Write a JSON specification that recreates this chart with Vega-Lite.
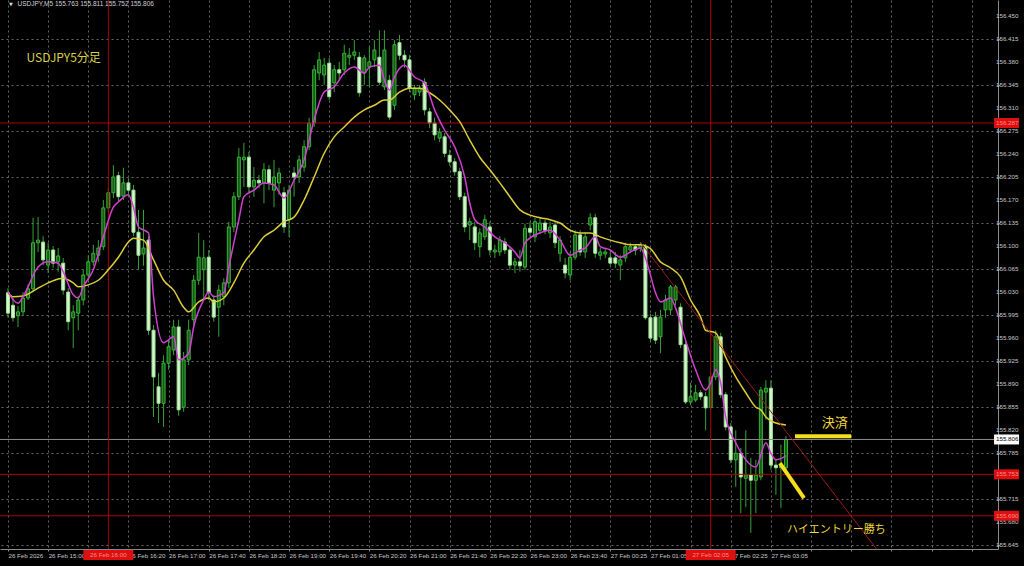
{
"$schema":"https://vega.github.io/schema/vega-lite/v6.json",
"width":998,"height":549,
"autosize":{"type":"none"},
"padding":{"left":0,"top":0,"right":26,"bottom":17},
"background":"#000000",
"config":{"view":{"stroke":null},"axis":{"labelOverlap":false,"labelBound":false,"labelFlush":false}},
"datasets":{
"candles":[
{"i":0,"o":156.029,"h":156.036,"l":155.991,"c":155.998},
{"i":1,"o":156.010,"h":156.021,"l":155.985,"c":155.991},
{"i":2,"o":155.994,"h":156.009,"l":155.977,"c":156.000},
{"i":3,"o":156.000,"h":156.030,"l":155.994,"c":156.021},
{"i":4,"o":156.021,"h":156.042,"l":156.018,"c":156.035},
{"i":5,"o":156.035,"h":156.143,"l":156.030,"c":156.105},
{"i":6,"o":156.105,"h":156.144,"l":156.091,"c":156.109},
{"i":7,"o":156.106,"h":156.115,"l":156.071,"c":156.079},
{"i":8,"o":156.071,"h":156.105,"l":156.059,"c":156.094},
{"i":9,"o":156.094,"h":156.100,"l":156.067,"c":156.074},
{"i":10,"o":156.076,"h":156.097,"l":156.061,"c":156.085},
{"i":11,"o":156.074,"h":156.082,"l":156.026,"c":156.033},
{"i":12,"o":156.030,"h":156.036,"l":155.972,"c":155.985},
{"i":13,"o":155.991,"h":156.010,"l":155.945,"c":156.000},
{"i":14,"o":155.998,"h":156.024,"l":155.972,"c":156.018},
{"i":15,"o":156.018,"h":156.064,"l":156.010,"c":156.056},
{"i":16,"o":156.056,"h":156.086,"l":156.048,"c":156.076},
{"i":17,"o":156.076,"h":156.102,"l":156.070,"c":156.089},
{"i":18,"o":156.086,"h":156.109,"l":156.076,"c":156.097},
{"i":19,"o":156.099,"h":156.170,"l":156.094,"c":156.158},
{"i":20,"o":156.158,"h":156.188,"l":156.152,"c":156.181},
{"i":21,"o":156.181,"h":156.223,"l":156.173,"c":156.205},
{"i":22,"o":156.207,"h":156.213,"l":156.167,"c":156.175},
{"i":23,"o":156.176,"h":156.219,"l":156.170,"c":156.196},
{"i":24,"o":156.196,"h":156.203,"l":156.178,"c":156.185},
{"i":25,"o":156.185,"h":156.193,"l":156.115,"c":156.121},
{"i":26,"o":156.121,"h":156.155,"l":156.064,"c":156.086},
{"i":27,"o":156.088,"h":156.155,"l":156.070,"c":156.097},
{"i":28,"o":156.109,"h":156.115,"l":155.965,"c":155.972},
{"i":29,"o":155.972,"h":155.980,"l":155.840,"c":155.901},
{"i":30,"o":155.886,"h":155.907,"l":155.831,"c":155.861},
{"i":31,"o":155.861,"h":155.934,"l":155.825,"c":155.922},
{"i":32,"o":155.922,"h":155.957,"l":155.912,"c":155.947},
{"i":33,"o":155.942,"h":155.988,"l":155.934,"c":155.977},
{"i":34,"o":155.977,"h":155.988,"l":155.842,"c":155.851},
{"i":35,"o":155.855,"h":155.939,"l":155.848,"c":155.927},
{"i":36,"o":155.927,"h":155.988,"l":155.919,"c":155.972},
{"i":37,"o":155.988,"h":156.056,"l":155.980,"c":156.048},
{"i":38,"o":156.048,"h":156.120,"l":156.041,"c":156.083},
{"i":39,"o":156.064,"h":156.109,"l":156.018,"c":156.082},
{"i":40,"o":156.083,"h":156.094,"l":156.018,"c":156.029},
{"i":41,"o":156.018,"h":156.026,"l":155.985,"c":155.992},
{"i":42,"o":156.007,"h":156.041,"l":155.962,"c":156.033},
{"i":43,"o":156.023,"h":156.051,"l":156.010,"c":156.044},
{"i":44,"o":156.044,"h":156.137,"l":156.036,"c":156.129},
{"i":45,"o":156.129,"h":156.182,"l":156.121,"c":156.175},
{"i":46,"o":156.175,"h":156.249,"l":156.170,"c":156.235},
{"i":47,"o":156.231,"h":156.257,"l":156.190,"c":156.235},
{"i":48,"o":156.235,"h":156.243,"l":156.182,"c":156.190},
{"i":49,"o":156.190,"h":156.220,"l":156.175,"c":156.200},
{"i":50,"o":156.200,"h":156.208,"l":156.188,"c":156.196},
{"i":51,"o":156.196,"h":156.226,"l":156.165,"c":156.216},
{"i":52,"o":156.216,"h":156.223,"l":156.185,"c":156.196},
{"i":53,"o":156.185,"h":156.231,"l":156.159,"c":156.205},
{"i":54,"o":156.196,"h":156.219,"l":156.178,"c":156.211},
{"i":55,"o":156.181,"h":156.190,"l":156.120,"c":156.129},
{"i":56,"o":156.140,"h":156.193,"l":156.114,"c":156.185},
{"i":57,"o":156.211,"h":156.220,"l":156.175,"c":156.205},
{"i":58,"o":156.205,"h":156.238,"l":156.196,"c":156.231},
{"i":59,"o":156.220,"h":156.261,"l":156.213,"c":156.251},
{"i":60,"o":156.251,"h":156.295,"l":156.246,"c":156.287},
{"i":61,"o":156.287,"h":156.375,"l":156.281,"c":156.368},
{"i":62,"o":156.363,"h":156.395,"l":156.352,"c":156.383},
{"i":63,"o":156.360,"h":156.386,"l":156.345,"c":156.375},
{"i":64,"o":156.378,"h":156.386,"l":156.322,"c":156.327},
{"i":65,"o":156.348,"h":156.375,"l":156.334,"c":156.368},
{"i":66,"o":156.368,"h":156.380,"l":156.352,"c":156.363},
{"i":67,"o":156.368,"h":156.406,"l":156.360,"c":156.393},
{"i":68,"o":156.387,"h":156.401,"l":156.375,"c":156.390},
{"i":69,"o":156.390,"h":156.413,"l":156.383,"c":156.395},
{"i":70,"o":156.387,"h":156.395,"l":156.327,"c":156.333},
{"i":71,"o":156.363,"h":156.390,"l":156.345,"c":156.386},
{"i":72,"o":156.372,"h":156.403,"l":156.342,"c":156.380},
{"i":73,"o":156.383,"h":156.413,"l":156.372,"c":156.398},
{"i":74,"o":156.387,"h":156.428,"l":156.345,"c":156.349},
{"i":75,"o":156.342,"h":156.428,"l":156.337,"c":156.398},
{"i":76,"o":156.352,"h":156.360,"l":156.292,"c":156.296},
{"i":77,"o":156.314,"h":156.413,"l":156.307,"c":156.406},
{"i":78,"o":156.409,"h":156.421,"l":156.383,"c":156.390},
{"i":79,"o":156.390,"h":156.398,"l":156.371,"c":156.383},
{"i":80,"o":156.383,"h":156.390,"l":156.334,"c":156.340},
{"i":81,"o":156.330,"h":156.345,"l":156.322,"c":156.340},
{"i":82,"o":156.334,"h":156.345,"l":156.328,"c":156.340},
{"i":83,"o":156.349,"h":156.355,"l":156.299,"c":156.307},
{"i":84,"o":156.304,"h":156.310,"l":156.279,"c":156.287},
{"i":85,"o":156.287,"h":156.295,"l":156.261,"c":156.269},
{"i":86,"o":156.264,"h":156.279,"l":156.258,"c":156.273},
{"i":87,"o":156.266,"h":156.272,"l":156.235,"c":156.241},
{"i":88,"o":156.238,"h":156.246,"l":156.222,"c":156.228},
{"i":89,"o":156.228,"h":156.234,"l":156.207,"c":156.213},
{"i":90,"o":156.213,"h":156.219,"l":156.170,"c":156.175},
{"i":91,"o":156.175,"h":156.181,"l":156.121,"c":156.129},
{"i":92,"o":156.132,"h":156.143,"l":156.109,"c":156.137},
{"i":93,"o":156.129,"h":156.137,"l":156.094,"c":156.105},
{"i":94,"o":156.099,"h":156.127,"l":156.083,"c":156.120},
{"i":95,"o":156.114,"h":156.147,"l":156.109,"c":156.140},
{"i":96,"o":156.129,"h":156.137,"l":156.086,"c":156.094},
{"i":97,"o":156.091,"h":156.102,"l":156.082,"c":156.094},
{"i":98,"o":156.091,"h":156.115,"l":156.085,"c":156.109},
{"i":99,"o":156.106,"h":156.112,"l":156.088,"c":156.094},
{"i":100,"o":156.094,"h":156.100,"l":156.064,"c":156.071},
{"i":101,"o":156.071,"h":156.082,"l":156.059,"c":156.076},
{"i":102,"o":156.076,"h":156.094,"l":156.061,"c":156.070},
{"i":103,"o":156.068,"h":156.134,"l":156.064,"c":156.127},
{"i":104,"o":156.127,"h":156.137,"l":156.115,"c":156.121},
{"i":105,"o":156.114,"h":156.143,"l":156.106,"c":156.137},
{"i":106,"o":156.124,"h":156.143,"l":156.118,"c":156.135},
{"i":107,"o":156.135,"h":156.140,"l":156.118,"c":156.124},
{"i":108,"o":156.120,"h":156.137,"l":156.112,"c":156.129},
{"i":109,"o":156.132,"h":156.137,"l":156.097,"c":156.105},
{"i":110,"o":156.089,"h":156.115,"l":156.076,"c":156.109},
{"i":111,"o":156.071,"h":156.082,"l":156.051,"c":156.059},
{"i":112,"o":156.056,"h":156.091,"l":156.048,"c":156.083},
{"i":113,"o":156.083,"h":156.124,"l":156.079,"c":156.117},
{"i":114,"o":156.117,"h":156.124,"l":156.085,"c":156.091},
{"i":115,"o":156.091,"h":156.121,"l":156.082,"c":156.114},
{"i":116,"o":156.132,"h":156.150,"l":156.124,"c":156.143},
{"i":117,"o":156.143,"h":156.149,"l":156.082,"c":156.089},
{"i":118,"o":156.086,"h":156.097,"l":156.079,"c":156.091},
{"i":119,"o":156.088,"h":156.097,"l":156.082,"c":156.091},
{"i":120,"o":156.082,"h":156.091,"l":156.070,"c":156.074},
{"i":121,"o":156.082,"h":156.091,"l":156.067,"c":156.074},
{"i":122,"o":156.071,"h":156.086,"l":156.048,"c":156.079},
{"i":123,"o":156.082,"h":156.105,"l":156.076,"c":156.099},
{"i":124,"o":156.094,"h":156.105,"l":156.089,"c":156.099},
{"i":125,"o":156.099,"h":156.102,"l":156.086,"c":156.094},
{"i":126,"o":156.097,"h":156.106,"l":156.091,"c":156.102},
{"i":127,"o":156.099,"h":156.103,"l":155.988,"c":155.991},
{"i":128,"o":155.991,"h":155.997,"l":155.954,"c":155.960},
{"i":129,"o":155.992,"h":156.000,"l":155.951,"c":155.957},
{"i":130,"o":155.962,"h":156.003,"l":155.937,"c":155.992},
{"i":131,"o":156.003,"h":156.026,"l":155.991,"c":156.018},
{"i":132,"o":156.003,"h":156.041,"l":155.995,"c":156.038},
{"i":133,"o":156.018,"h":156.041,"l":156.010,"c":156.038},
{"i":134,"o":156.007,"h":156.013,"l":155.945,"c":155.950},
{"i":135,"o":155.950,"h":155.957,"l":155.860,"c":155.863},
{"i":136,"o":155.863,"h":155.892,"l":155.858,"c":155.871},
{"i":137,"o":155.866,"h":155.889,"l":155.863,"c":155.877},
{"i":138,"o":155.877,"h":155.881,"l":155.866,"c":155.871},
{"i":139,"o":155.871,"h":155.878,"l":155.820,"c":155.854},
{"i":140,"o":155.855,"h":155.909,"l":155.851,"c":155.901},
{"i":141,"o":155.901,"h":155.972,"l":155.896,"c":155.962},
{"i":142,"o":155.962,"h":155.968,"l":155.869,"c":155.874},
{"i":143,"o":155.874,"h":155.878,"l":155.820,"c":155.825},
{"i":144,"o":155.825,"h":155.831,"l":155.770,"c":155.775},
{"i":145,"o":155.775,"h":155.820,"l":155.734,"c":155.785},
{"i":146,"o":155.785,"h":155.793,"l":155.694,"c":155.749},
{"i":147,"o":155.747,"h":155.820,"l":155.703,"c":155.752},
{"i":148,"o":155.752,"h":155.778,"l":155.664,"c":155.744},
{"i":149,"o":155.744,"h":155.775,"l":155.694,"c":155.752},
{"i":150,"o":155.749,"h":155.886,"l":155.744,"c":155.881},
{"i":151,"o":155.878,"h":155.896,"l":155.836,"c":155.884},
{"i":152,"o":155.884,"h":155.896,"l":155.760,"c":155.767},
{"i":153,"o":155.767,"h":155.775,"l":155.722,"c":155.763},
{"i":154,"o":155.763,"h":155.798,"l":155.702,"c":155.766},
{"i":155,"o":155.763,"h":155.811,"l":155.752,"c":155.806}
],
"fast":[
{"i":0,"p":156.030},{"i":2,"p":156.013},{"i":3,"p":156.023},{"i":6,"p":156.068},{"i":8,"p":156.076},{"i":10,"p":156.074},{"i":11,"p":156.061},{"i":13,"p":156.026},{"i":14,"p":156.021},{"i":15,"p":156.038},{"i":17,"p":156.064},{"i":19,"p":156.114},{"i":21,"p":156.159},{"i":22,"p":156.167},{"i":24,"p":156.178},{"i":25,"p":156.159},{"i":26,"p":156.129},{"i":28,"p":156.120},{"i":29,"p":156.023},{"i":31,"p":155.953},{"i":33,"p":155.962},{"i":34,"p":155.927},{"i":36,"p":155.937},{"i":37,"p":155.977},{"i":39,"p":156.018},{"i":40,"p":156.030},{"i":41,"p":156.023},{"i":43,"p":156.029},{"i":44,"p":156.068},{"i":46,"p":156.140},{"i":47,"p":156.175},{"i":49,"p":156.185},{"i":51,"p":156.196},{"i":53,"p":156.193},{"i":55,"p":156.173},{"i":57,"p":156.200},{"i":59,"p":156.231},{"i":61,"p":156.292},{"i":63,"p":156.334},{"i":65,"p":156.342},{"i":67,"p":156.363},{"i":69,"p":156.372},{"i":71,"p":156.363},{"i":72,"p":156.372},{"i":74,"p":156.375},{"i":75,"p":156.352},{"i":76,"p":156.337},{"i":77,"p":156.357},{"i":79,"p":156.375},{"i":81,"p":156.357},{"i":83,"p":156.348},{"i":85,"p":156.307},{"i":87,"p":156.276},{"i":89,"p":156.251},{"i":91,"p":156.205},{"i":92,"p":156.165},{"i":93,"p":156.140},{"i":95,"p":156.129},{"i":97,"p":156.114},{"i":99,"p":156.105},{"i":101,"p":156.091},{"i":102,"p":156.082},{"i":103,"p":156.105},{"i":106,"p":156.120},{"i":108,"p":156.124},{"i":110,"p":156.109},{"i":112,"p":156.086},{"i":114,"p":156.094},{"i":115,"p":156.097},{"i":117,"p":156.114},{"i":118,"p":156.099},{"i":120,"p":156.094},{"i":122,"p":156.083},{"i":124,"p":156.091},{"i":126,"p":156.097},{"i":127,"p":156.082},{"i":128,"p":156.056},{"i":129,"p":156.029},{"i":130,"p":156.015},{"i":132,"p":156.021},{"i":133,"p":156.006},{"i":135,"p":155.957},{"i":137,"p":155.912},{"i":139,"p":155.881},{"i":140,"p":155.892},{"i":141,"p":155.912},{"i":142,"p":155.892},{"i":143,"p":155.840},{"i":145,"p":155.801},{"i":147,"p":155.775},{"i":149,"p":155.764},{"i":151,"p":155.801},{"i":152,"p":155.785},{"i":153,"p":155.775},{"i":155,"p":155.781}
],
"slow":[
{"i":0,"p":156.029},{"i":1,"p":156.023},{"i":3,"p":156.024},{"i":6,"p":156.036},{"i":8,"p":156.044},{"i":10,"p":156.050},{"i":11,"p":156.051},{"i":13,"p":156.044},{"i":14,"p":156.038},{"i":16,"p":156.041},{"i":18,"p":156.048},{"i":20,"p":156.064},{"i":22,"p":156.083},{"i":24,"p":156.106},{"i":25,"p":156.112},{"i":27,"p":156.109},{"i":29,"p":156.079},{"i":31,"p":156.048},{"i":33,"p":156.033},{"i":35,"p":156.007},{"i":36,"p":156.000},{"i":38,"p":156.015},{"i":40,"p":156.021},{"i":41,"p":156.015},{"i":43,"p":156.021},{"i":45,"p":156.044},{"i":47,"p":156.074},{"i":49,"p":156.094},{"i":51,"p":156.114},{"i":53,"p":156.124},{"i":55,"p":156.137},{"i":57,"p":156.144},{"i":59,"p":156.170},{"i":61,"p":156.205},{"i":63,"p":156.241},{"i":65,"p":156.266},{"i":67,"p":156.281},{"i":69,"p":156.296},{"i":71,"p":156.307},{"i":73,"p":156.314},{"i":75,"p":156.322},{"i":76,"p":156.322},{"i":78,"p":156.334},{"i":80,"p":156.340},{"i":82,"p":156.340},{"i":84,"p":156.333},{"i":86,"p":156.322},{"i":88,"p":156.307},{"i":90,"p":156.289},{"i":92,"p":156.261},{"i":94,"p":156.235},{"i":96,"p":156.216},{"i":98,"p":156.196},{"i":100,"p":156.175},{"i":102,"p":156.155},{"i":104,"p":156.147},{"i":106,"p":156.143},{"i":108,"p":156.140},{"i":110,"p":156.135},{"i":112,"p":156.124},{"i":114,"p":156.120},{"i":116,"p":156.120},{"i":118,"p":156.114},{"i":120,"p":156.109},{"i":122,"p":156.105},{"i":124,"p":156.102},{"i":126,"p":156.102},{"i":128,"p":156.096},{"i":130,"p":156.076},{"i":132,"p":156.067},{"i":134,"p":156.053},{"i":136,"p":156.018},{"i":138,"p":155.992},{"i":139,"p":155.972},{"i":141,"p":155.968},{"i":143,"p":155.931},{"i":145,"p":155.901},{"i":147,"p":155.877},{"i":149,"p":155.855},{"i":150,"p":155.851},{"i":151,"p":155.840},{"i":153,"p":155.831},{"i":155,"p":155.828}
],
"redlevels":[{"p":156.287},{"p":155.753},{"p":155.690}],
"bid":[{"p":155.806}],
"vlines":[{"i":20,"t":"26 Feb 16:00"},{"i":140,"t":"27 Feb 02:05"}],
"trend":[{"i":126,"p":156.106},{"i":173,"p":155.640}],
"strokes":[{"seg":"a","i":156.8,"p":155.811},{"seg":"a","i":168.0,"p":155.811},{"seg":"b","i":153.8,"p":155.770},{"seg":"b","i":158.6,"p":155.717}],
"ylabels":[{"p":156.45},{"p":156.415},{"p":156.38},{"p":156.345},{"p":156.31},{"p":156.275},{"p":156.24},{"p":156.205},{"p":156.17},{"p":156.135},{"p":156.1},{"p":156.065},{"p":156.03},{"p":155.995},{"p":155.96},{"p":155.925},{"p":155.89},{"p":155.855},{"p":155.82},{"p":155.785},{"p":155.75},{"p":155.715},{"p":155.68},{"p":155.645}]
},
"layer":[
{"data":{"name":"candles"},"mark":{"type":"rule","color":"#35a335","strokeWidth":1},
"encoding":{
"x":{"field":"i","type":"quantitative","scale":{"domain":[-0.592,196.25],"nice":false,"zero":false},
"axis":{"values":[0,4,8,12,16,20,24,28,32,36,40,44,48,52,56,60,64,68,72,76,80,84,88,92,96,100,104,108,112,116,120,124,128,132,136,140,144,148,152,156,160,164,168,172,176,180,184,188,192,196],
"labelExpr":"datum.value % 8 == 0 && datum.value <= 152 && datum.value != 16 && datum.value != 136 ? ['26 Feb 2026','26 Feb 15:00','26 Feb 15:40','26 Feb 16:20','26 Feb 17:00','26 Feb 17:40','26 Feb 18:20','26 Feb 19:00','26 Feb 19:40','26 Feb 20:20','26 Feb 21:00','26 Feb 21:40','26 Feb 22:20','26 Feb 23:00','26 Feb 23:40','27 Feb 00:25','27 Feb 01:05','27 Feb 01:45','27 Feb 02:25','27 Feb 03:05'][datum.value / 8] : ''",
"labelAlign":"left","labelBaseline":"top","labelPadding":1,"labelFontSize":6.2,"labelFont":"Liberation Sans","labelColor":"#c8c8c8","labelOverlap":false,"labelBound":false,"labelFlush":false,
"grid":true,"gridColor":"#666666","gridDash":[2,3],"gridWidth":1,"domainColor":"#8a8a8a","tickColor":"#8a8a8a","tickSize":2,"title":null}},
"y":{"field":"l","type":"quantitative","scale":{"domain":[155.6395,156.474],"nice":false,"zero":false},
"axis":{"orient":"right","values":[156.45,156.415,156.38,156.345,156.31,156.275,156.24,156.205,156.17,156.135,156.1,156.065,156.03,155.995,155.96,155.925,155.89,155.855,155.82,155.785,155.75,155.715,155.68,155.645],
"labels":false,"grid":true,"gridColor":"#666666","gridDash":[2,3],"gridWidth":1,"domainColor":"#8a8a8a","tickColor":"#8a8a8a","tickSize":2,"title":null}},
"y2":{"field":"h"}}},
{"data":{"name":"candles"},"mark":{"type":"bar","orient":"vertical","size":3,"strokeWidth":1,"opacity":1},
"encoding":{"x":{"field":"i","type":"quantitative"},
"y":{"field":"o","type":"quantitative"},
"y2":{"field":"c"},
"fill":{"condition":{"test":"datum.c >= datum.o","value":"#145f14"},"value":"#d2f7c8"},
"stroke":{"condition":{"test":"datum.c >= datum.o","value":"#3cb03c"},"value":"#9ee09a"}}},
{"data":{"name":"redlevels"},"mark":{"type":"rule","strokeWidth":1,"color":"#b00000"},
"encoding":{"y":{"field":"p","type":"quantitative"}}},
{"data":{"name":"bid"},"mark":{"type":"rule","strokeWidth":1,"color":"#8c8c8c"},
"encoding":{"y":{"field":"p","type":"quantitative"}}},
{"data":{"name":"vlines"},"mark":{"type":"rule","color":"#b00000","strokeWidth":1},
"encoding":{"x":{"field":"i","type":"quantitative"}}},
{"data":{"name":"slow"},"mark":{"type":"line","interpolate":"monotone","strokeWidth":1.5,"color":"#ddcc38"},
"encoding":{"x":{"field":"i","type":"quantitative"},"y":{"field":"p","type":"quantitative"}}},
{"data":{"name":"fast"},"mark":{"type":"line","interpolate":"monotone","strokeWidth":1.5,"color":"#d23fd2"},
"encoding":{"x":{"field":"i","type":"quantitative"},"y":{"field":"p","type":"quantitative"}}},
{"data":{"name":"trend"},"mark":{"type":"line","color":"#9a1a1a","strokeWidth":1,"clip":true},
"encoding":{"x":{"field":"i","type":"quantitative"},"y":{"field":"p","type":"quantitative"}}},
{"data":{"name":"strokes"},"mark":{"type":"line","color":"#f5de1c","strokeWidth":4,"strokeCap":"butt"},
"encoding":{"x":{"field":"i","type":"quantitative"},"y":{"field":"p","type":"quantitative"},"detail":{"field":"seg"}}},
{"data":{"values":[{"i":3.7,"p":156.386,"t":"USDJPY5分足"}]},"mark":{"type":"text","align":"left","baseline":"middle","fontSize":12,"font":"Noto Sans CJK JP","color":"#d8cf48"},
"encoding":{"x":{"field":"i","type":"quantitative"},"y":{"field":"p","type":"quantitative"},"text":{"field":"t"}}},
{"data":{"values":[{"i":164.7,"p":155.831,"t":"決済"}]},"mark":{"type":"text","align":"center","baseline":"middle","fontSize":13,"font":"Noto Sans CJK JP","color":"#eed63a"},
"encoding":{"x":{"field":"i","type":"quantitative"},"y":{"field":"p","type":"quantitative"},"text":{"field":"t"}}},
{"data":{"values":[{"i":155.2,"p":155.668,"t":"ハイエントリー勝ち"}]},"mark":{"type":"text","align":"left","baseline":"middle","fontSize":11,"font":"Noto Sans CJK JP","color":"#eed63a"},
"encoding":{"x":{"field":"i","type":"quantitative"},"y":{"field":"p","type":"quantitative"},"text":{"field":"t"}}},
{"data":{"values":[{"i":0.2,"p":156.468,"t":"▼"}]},"mark":{"type":"text","align":"left","baseline":"middle","fontSize":5,"font":"DejaVu Sans","color":"#d0d0d0"},
"encoding":{"x":{"field":"i","type":"quantitative"},"y":{"field":"p","type":"quantitative"},"text":{"field":"t"}}},
{"data":{"values":[{"i":1.9,"p":156.468,"t":"USDJPY,M5  155.763 155.811 155.752 155.806"}]},"mark":{"type":"text","align":"left","baseline":"middle","fontSize":6.5,"font":"Liberation Sans","color":"#d0d0d0"},
"encoding":{"x":{"field":"i","type":"quantitative"},"y":{"field":"p","type":"quantitative"},"text":{"field":"t"}}},
{"data":{"name":"ylabels"},"mark":{"type":"text","align":"left","baseline":"middle","fontSize":6.2,"font":"Liberation Sans","color":"#c8c8c8"},
"encoding":{"x":{"datum":196.85,"type":"quantitative"},"y":{"field":"p","type":"quantitative"},"text":{"field":"p","type":"quantitative","format":".3f"}}},
{"data":{"name":"redlevels"},"mark":{"type":"tick","orient":"horizontal","size":25,"thickness":10,"opacity":1,"color":"#dd1010"},
"encoding":{"x":{"datum":198.95,"type":"quantitative"},"y":{"field":"p","type":"quantitative"}}},
{"data":{"name":"redlevels"},"mark":{"type":"text","align":"left","baseline":"middle","fontSize":6.2,"font":"Liberation Sans","color":"#ff8a8a"},
"encoding":{"x":{"datum":196.85,"type":"quantitative"},"y":{"field":"p","type":"quantitative"},"text":{"field":"p","type":"quantitative","format":".3f"}}},
{"data":{"name":"bid"},"mark":{"type":"tick","orient":"horizontal","size":25,"thickness":10,"opacity":1,"color":"#ffffff"},
"encoding":{"x":{"datum":198.95,"type":"quantitative"},"y":{"field":"p","type":"quantitative"}}},
{"data":{"name":"bid"},"mark":{"type":"text","align":"left","baseline":"middle","fontSize":6.2,"font":"Liberation Sans","color":"#000000"},
"encoding":{"x":{"datum":196.85,"type":"quantitative"},"y":{"field":"p","type":"quantitative"},"text":{"field":"p","type":"quantitative","format":".3f"}}},
{"data":{"name":"vlines"},"mark":{"type":"tick","orient":"horizontal","size":50,"thickness":10,"opacity":1,"color":"#dd1010"},
"encoding":{"x":{"field":"i","type":"quantitative"},"y":{"datum":155.6305,"type":"quantitative"}}},
{"data":{"name":"vlines"},"mark":{"type":"text","align":"center","baseline":"middle","fontSize":6.2,"font":"Liberation Sans","color":"#ff8a8a"},
"encoding":{"x":{"field":"i","type":"quantitative"},"y":{"datum":155.6305,"type":"quantitative"},"text":{"field":"t"}}}
]
}
